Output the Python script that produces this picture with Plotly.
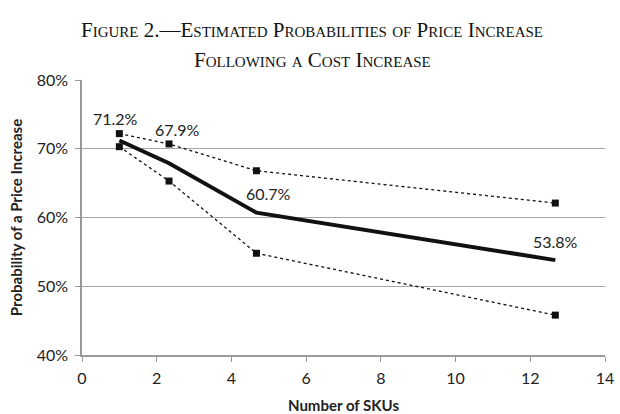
import plotly.graph_objects as go

skus = [1, 2.33, 4.67, 12.67]
estimate = [71.2, 67.9, 60.7, 53.8]
upper = [72.2, 70.7, 66.8, 62.1]
lower = [70.3, 65.3, 54.8, 45.8]
labels = ["71.2%", "67.9%", "60.7%", "53.8%"]
label_dx = [-4, 8, 12, 0]
label_dy = [22, 34, 19, 19]
title_lines = ["Figure 2.—Estimated Probabilities of Price Increase",
               "Following a Cost Increase"]

fig = go.Figure()
for ser in (upper, lower):
    fig.add_trace(go.Scatter(
        x=skus, y=[v / 100 for v in ser], mode="lines+markers",
        line=dict(color="#111", width=1.3, dash="dot"),
        marker=dict(symbol="square", size=7, color="#111"),
        showlegend=False, hoverinfo="skip"))
fig.add_trace(go.Scatter(
    x=skus, y=[v / 100 for v in estimate], mode="lines",
    line=dict(color="#111", width=4), showlegend=False))

for x, y, t, dx, dy in zip(skus, estimate, labels, label_dx, label_dy):
    fig.add_annotation(x=x, y=y / 100, text=t, showarrow=False,
                       xshift=dx, yshift=dy,
                       font=dict(family="Lato", size=16, color="#222"))

for i, line in enumerate(title_lines):
    fig.add_annotation(xref="paper", yref="paper", x=0.44, y=[1.182, 1.073][i],
                       xanchor="center", yanchor="middle", showarrow=False, text=line,
                       font=dict(family="Liberation Serif", size=21, color="#111",
                                 variant="small-caps"))

fig.update_layout(
    width=620, height=414,
    margin=dict(l=82, r=15, t=80, b=59),
    paper_bgcolor="white", plot_bgcolor="white",
    font=dict(family="Lato", size=16, color="#222"),
)
fig.update_xaxes(
    range=[0, 14], dtick=2, showgrid=False, zeroline=False, automargin=False,
    showline=True, linecolor="#999", linewidth=1.5,
    ticks="outside", ticklen=5, tickcolor="#999", ticklabelstandoff=3,
    title=dict(text="<b>Number of SKUs</b>", font=dict(family="Lato", size=15, color="#222"), standoff=19),
)
fig.update_yaxes(
    range=[0.4, 0.8], dtick=0.1, tickformat=".0%", automargin=False,
    showgrid=True, gridcolor="#a6a6a6", gridwidth=1.2, zeroline=False,
    showline=True, linecolor="#999", linewidth=1.5,
    ticks="outside", ticklen=5, tickcolor="#999", ticklabelstandoff=4,
    title=dict(text="<b>Probability of a Price Increase</b>", font=dict(family="Lato", size=15, color="#222"), standoff=10),
)
fig.write_html("out.html", config={"displayModeBar": False},
               post_script="document.body.style.margin='0';document.body.style.padding='0';")
